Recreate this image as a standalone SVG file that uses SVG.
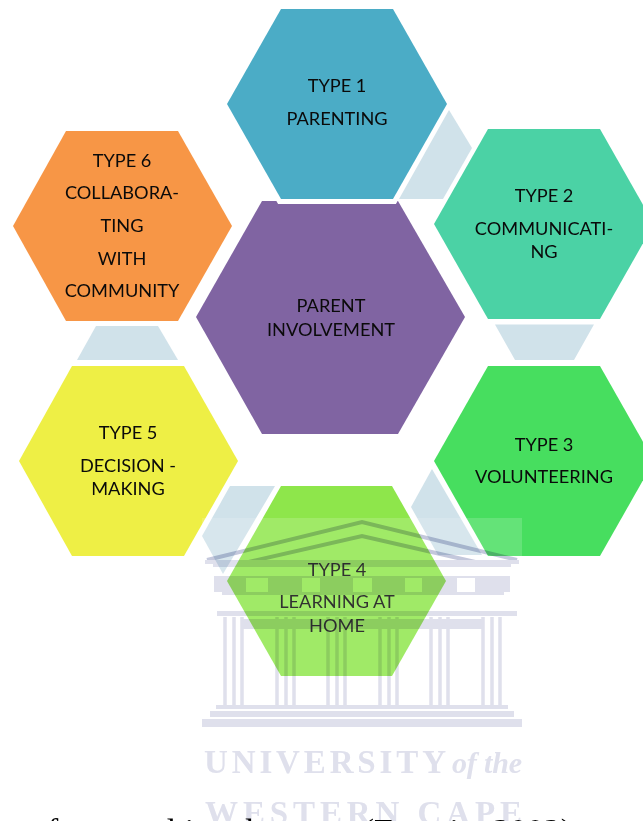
<svg xmlns="http://www.w3.org/2000/svg" width="643" height="821" viewBox="0 0 643 821">
<style>
.l{font-family:"Lato","Noto Sans",sans-serif;font-size:18.2px;fill:#0a0a0a;text-anchor:middle}
.c{fill:#d0e2ea}
.w{fill:#dfe0ec}
.s{fill:none;stroke:#dfe0ec}
.p{fill:none;stroke:#c4c8dc}
.m{font-family:"Liberation Serif",serif;font-weight:bold;fill:#dfe0ec}
</style>
<rect width="643" height="821" fill="#ffffff"/>
<g id="center"><polygon points="262,201 398,201 465,317 398,434 262,434 196,317" fill="#8064a2"/><text class="l" x="331" y="312">PARENT</text><text class="l" x="331" y="336">INVOLVEMENT</text></g>
<g id="type1"><polygon points="281,9 393,9 447,104 393,199 281,199 227,104" fill="#4bacc6" stroke="#ffffff" stroke-width="10" paint-order="stroke"/><text class="l" x="337" y="92">TYPE 1</text><text class="l" x="337" y="125">PARENTING</text></g>
<g id="connectors">
<polygon class="c" points="449,110 472,148 443,199 399,199"/>
<polygon class="c" points="495,324.5 594,324.5 574,360 515,360"/>
<polygon class="c" points="432,469 482,555 438,555 411,507"/>
<polygon class="c" points="275,486 223,574 202,536 230,486"/>
<polygon class="c" points="96,326 158,326 178,360 77,360"/>
</g>
<g id="type2"><polygon points="488,129 600,129 654,224 600,319 488,319 434,224" fill="#4bd2a5"/><text class="l" x="544" y="202">TYPE 2</text><text class="l" x="544" y="235">COMMUNICATI-</text><text class="l" x="544" y="258">NG</text></g>
<g id="type3"><polygon points="488,366 600,366 654,461 600,556 488,556 434,461" fill="#47de5f"/><text class="l" x="544" y="451">TYPE 3</text><text class="l" x="544" y="483">VOLUNTEERING</text></g>
<g id="type4"><polygon points="281,486 392,486 446,581 392,676 281,676 227,581" fill="#8ee64b"/><text class="l" x="337" y="576">TYPE 4</text><text class="l" x="337" y="608">LEARNING AT</text><text class="l" x="337" y="632">HOME</text></g>
<g id="type5"><polygon points="72,366 184,366 238,461 184,556 72,556 19,461" fill="#eeef45"/><text class="l" x="128" y="439">TYPE 5</text><text class="l" x="128" y="472">DECISION -</text><text class="l" x="128" y="495">MAKING</text></g>
<g id="type6"><polygon points="66,131 178,131 232,226 178,321 66,321 13,226" fill="#f79646"/><text class="l" x="122" y="167">TYPE 6</text><text class="l" x="122" y="199">COLLABORA-</text><text class="l" x="122" y="232">TING</text><text class="l" x="122" y="265">WITH</text><text class="l" x="122" y="297">COMMUNITY</text></g>
<rect x="202" y="518" width="320" height="303" fill="#ffffff" fill-opacity="0.16"/>
<g id="watermark" style="mix-blend-mode:multiply">
<path class="p" stroke-width="4" d="M207,560 L362,522 L517,560 M240,564 L362,536 L484,564"/>
<rect class="w" x="205" y="560" width="314" height="4"/>
<rect class="w" x="213" y="564" width="298" height="3"/>
<rect class="w" x="214" y="576" width="296" height="2"/>
<path class="w" d="M214,578h32v14h-32zM268,578h34v14h-34zM320,578h33v14h-33zM372,578h33v14h-33zM422,578h35v14h-35zM475,578h35v14h-35z"/>
<rect class="w" x="222" y="592" width="282" height="3"/>
<rect class="w" x="217" y="611" width="300" height="5"/>
<rect class="w" x="243" y="619" width="239" height="10"/>
<path class="s" stroke-width="3.5" d="M225,617V705M234,617V705M242,617V705M277,617V705M286,617V705M294,617V705M328,617V705M337,617V705M345,617V705M380,617V705M389,617V705M397,617V705M431,617V705M440,617V705M448,617V705M483,617V705M492,617V705M500,617V705"/>
<rect class="w" x="216" y="705" width="292" height="4"/>
<rect class="w" x="210" y="711" width="304" height="6"/>
<rect class="w" x="202" y="719" width="320" height="8"/>
<text class="m" x="204" y="773" font-size="33" textLength="242" lengthAdjust="spacing">UNIVERSITY</text>
<text class="m" x="452" y="773" font-size="30" font-style="italic" font-weight="normal" textLength="70" lengthAdjust="spacing">of the</text>
<text class="m" x="205" y="824" font-size="33" textLength="317" lengthAdjust="spacing">WESTERN CAPE</text>
</g>
<text id="caption" x="30" y="842" font-family="'Liberation Serif',serif" font-size="33.8" fill="#000000" textLength="542" lengthAdjust="spacing">of parental involvement (Epstein, 2002)</text>
</svg>
